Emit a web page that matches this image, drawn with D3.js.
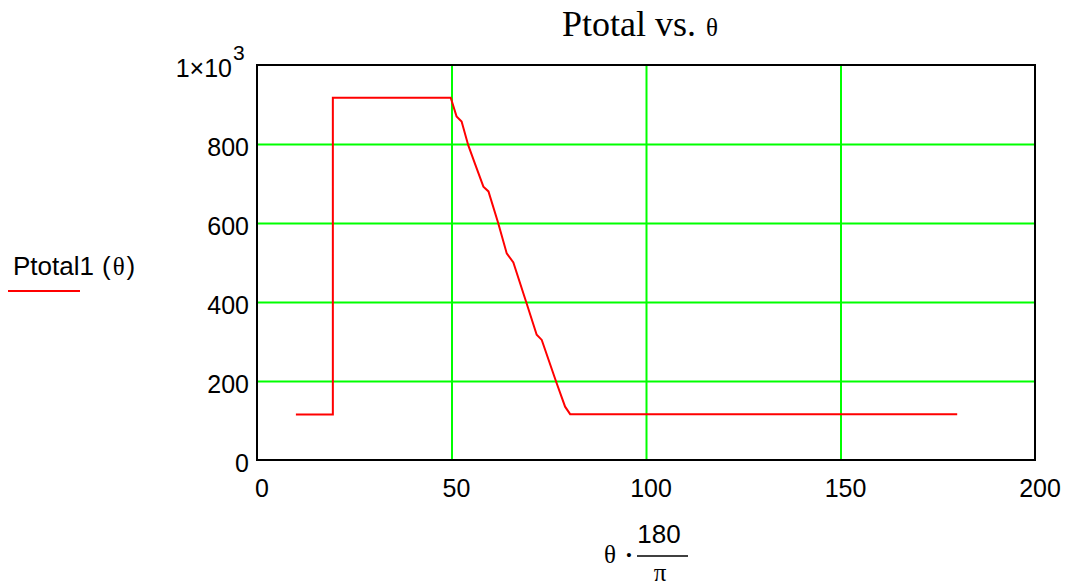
<!DOCTYPE html>
<html>
<head>
<meta charset="utf-8">
<script src="https://cdn.jsdelivr.net/npm/d3@7"></script>
<style>
  html, body { margin: 0; padding: 0; background: #fff; }
  svg { display: block; }
</style>
</head>
<body>
<svg id="chart" width="1068" height="588"></svg>
<script>
// ---- data ----
const thetaDeg = [10, 19.5, 19.5, 49.8, 51.3, 52.6, 54.3, 56.0, 58.2, 59.5, 62.0, 64.2, 65.9, 69.3, 71.9, 73.2, 76.9, 79.2, 80.5, 180];
const ptotal   = [115, 115, 917, 917, 870, 857, 797, 751, 692, 680, 600, 523, 500, 397, 317, 304, 198, 135, 116, 116];
const xTicks = [0, 50, 100, 150, 200];
const yTicks = [0, 200, 400, 600, 800];
const yTopLabel = "1×10";

// ---- layout ----
const svg = d3.select("#chart");
const L = 257, R = 1035, T = 65, B = 460;
const x = d3.scaleLinear().domain([0, 200]).range([L, R]);
const y = d3.scaleLinear().domain([0, 1000]).range([B, T]);
const sans = "Liberation Sans, Arial, sans-serif";
const serif = "Liberation Serif, Times New Roman, serif";

// grid
svg.append("g")
  .attr("transform", `translate(0,${B})`)
  .call(d3.axisBottom(x).tickValues(xTicks.slice(1, -1)).tickSize(-(B - T)).tickFormat(""))
  .call(g => g.select(".domain").remove())
  .call(g => g.selectAll("line").attr("stroke", "#00ff00").attr("stroke-width", 2));
svg.append("g")
  .attr("transform", `translate(${L},0)`)
  .call(d3.axisLeft(y).tickValues(yTicks.slice(1)).tickSize(-(R - L)).tickFormat(""))
  .call(g => g.select(".domain").remove())
  .call(g => g.selectAll("line").attr("stroke", "#00ff00").attr("stroke-width", 2));

// frame
svg.append("rect")
  .attr("x", L).attr("y", T).attr("width", R - L).attr("height", B - T)
  .attr("fill", "none").attr("stroke", "#000").attr("stroke-width", 2);

// line
const line = d3.line().x((d, i) => x(thetaDeg[i])).y(d => y(d));
svg.append("path")
  .datum(ptotal)
  .attr("d", line)
  .attr("fill", "none")
  .attr("stroke", "#ff0000")
  .attr("stroke-width", 2);

// x tick labels
svg.append("g").selectAll("text").data(xTicks).join("text")
  .attr("x", d => x(d) + 5)
  .attr("y", 497)
  .attr("text-anchor", "middle")
  .attr("font-family", sans)
  .attr("font-size", 25)
  .attr("fill", "#000")
  .text(d => d);

// y tick labels
svg.append("g").selectAll("text").data(yTicks).join("text")
  .attr("x", 249)
  .attr("y", d => y(d) + 12)
  .attr("text-anchor", "end")
  .attr("font-family", sans)
  .attr("font-size", 25)
  .attr("fill", "#000")
  .text(d => d);

// 1x10^3
svg.append("text")
  .attr("x", 232).attr("y", 77)
  .attr("text-anchor", "end")
  .attr("font-family", sans)
  .attr("font-size", 25)
  .attr("fill", "#000")
  .text(yTopLabel);
svg.append("text")
  .attr("x", 233).attr("y", 60)
  .attr("font-family", sans)
  .attr("font-size", 21)
  .attr("fill", "#000")
  .text("3");

// title
const title = svg.append("text")
  .attr("x", 562).attr("y", 36)
  .attr("font-family", serif)
  .attr("font-size", 36)
  .attr("fill", "#000");
title.append("tspan").text("Ptotal vs.");
title.append("tspan").attr("dx", 10).attr("font-size", 25).text("θ");

// y axis label (legend)
const yl = svg.append("text")
  .attr("x", 13).attr("y", 275)
  .attr("font-family", sans)
  .attr("font-size", 26)
  .attr("fill", "#000");
yl.append("tspan").text("Ptotal1");
yl.append("tspan").attr("dx", 8).text("(");
yl.append("tspan").attr("font-family", serif).attr("font-size", 25).attr("dx", 2).text("θ");
yl.append("tspan").attr("dx", 2).text(")");
svg.append("line")
  .attr("x1", 8).attr("x2", 80).attr("y1", 291).attr("y2", 291)
  .attr("stroke", "#ff0000").attr("stroke-width", 2);

// x axis label: θ · 180/π
svg.append("text").attr("x", 610).attr("y", 563).attr("text-anchor", "middle")
  .attr("font-family", serif).attr("font-size", 25).text("θ");
svg.append("text").attr("x", 629).attr("y", 563).attr("text-anchor", "middle")
  .attr("font-family", serif).attr("font-size", 25).attr("font-weight", "bold").text("·");
svg.append("text").attr("x", 659).attr("y", 543).attr("text-anchor", "middle")
  .attr("font-family", sans).attr("font-size", 26).text("180");
svg.append("line").attr("x1", 637).attr("x2", 688).attr("y1", 556).attr("y2", 556)
  .attr("stroke", "#000").attr("stroke-width", 1.5);
svg.append("text").attr("x", 660).attr("y", 581).attr("text-anchor", "middle")
  .attr("font-family", serif).attr("font-size", 25).text("π");
</script>
</body>
</html>
